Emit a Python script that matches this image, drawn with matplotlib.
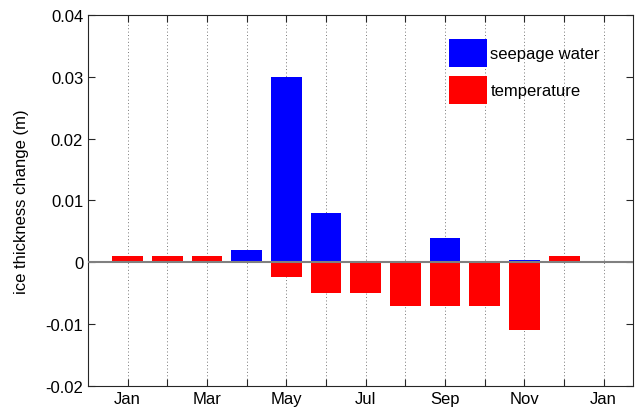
import matplotlib.pyplot as plt
import numpy as np

plt.rcParams['font.family'] = ['Liberation Sans', 'DejaVu Sans']

months = np.arange(1, 13)
seepage = [0, 0, 0, 0.002, 0.030, 0.008, 0, 0, 0.004, 0, 0.0003, 0]
temperature = [0.001, 0.001, 0.001, 0, -0.0023, -0.005, -0.005, -0.007,
               -0.007, -0.007, -0.011, 0.001]
tick_pos = np.arange(1, 14)
tick_labels = ['Jan', '', 'Mar', '', 'May', '', 'Jul', '', 'Sep', '', 'Nov', '', 'Jan']

fig = plt.figure(figsize=(6.39, 4.14), dpi=100)
ax = fig.add_axes([0.1377, 0.0652, 0.853, 0.8962])

ax.bar(months, seepage, width=0.78, color='#0000ff', edgecolor='none',
       label='seepage water', zorder=2)
ax.bar(months, temperature, width=0.78, color='#ff0000', edgecolor='none',
       label='temperature', zorder=2)
ax.axhline(0, color='#808080', lw=1.5, zorder=3)

ax.set_xlim(0, 13.74)
ax.set_ylim(-0.02, 0.04)
ax.set_xticks(tick_pos)
ax.set_xticklabels(tick_labels)
ax.set_yticks(np.arange(-0.02, 0.041, 0.01))
ax.set_yticklabels(['-0.02', '-0.01', '0', '0.01', '0.02', '0.03', '0.04'])
ax.tick_params(direction='in', top=True, right=True, labelsize=12,
               length=5, width=0.8, colors='#262626', labelcolor='black')
ax.xaxis.grid(True, linestyle=(0, (1, 2.5)), color='#777777', lw=0.7)
ax.set_axisbelow(True)
for s in ax.spines.values():
    s.set_color('#262626')
    s.set_linewidth(0.8)

ax.set_ylabel('ice thickness change (m)', fontsize=12, labelpad=12)

ax.legend(loc='upper left', bbox_to_anchor=(0.662, 0.935), frameon=False,
          fontsize=12, borderpad=0, handlelength=2.3, handleheight=2.2,
          handletextpad=0.2, labelspacing=0.55, borderaxespad=0)

fig.savefig('out.png', dpi=100)
